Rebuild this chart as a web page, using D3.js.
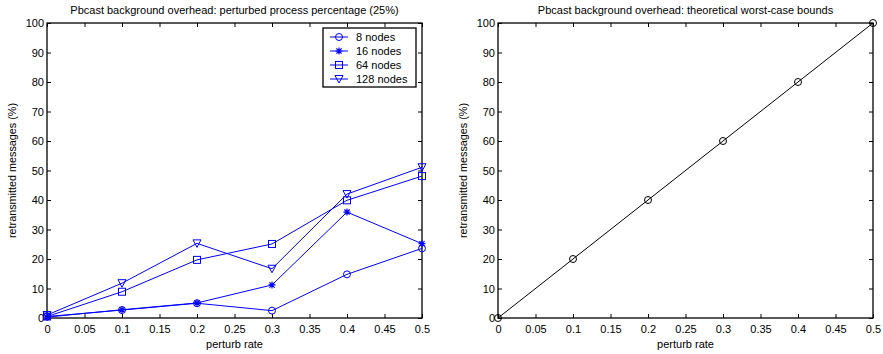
<!DOCTYPE html>
<html>
<head>
<meta charset="utf-8">
<script src="https://cdn.jsdelivr.net/npm/d3@7"></script>
<style>
  body { margin: 0; background: #fff; }
  text { font-family: "Liberation Sans", Arial, sans-serif; }
</style>
</head>
<body>
<svg id="chart" width="883" height="354"></svg>
<script>
// data
const rates = [0, 0.1, 0.2, 0.3, 0.4, 0.5];
const nodes8 = [0.5, 2.7, 5.0, 2.5, 14.8, 23.6];
const nodes16 = [0.3, 2.8, 5.1, 11.2, 35.9, 25.2];
const nodes64 = [0.5, 8.9, 19.7, 25.1, 39.9, 48.1];
const nodes128 = [1.0, 11.8, 25.3, 16.7, 42.0, 51.1];
const bounds = [0, 20, 40, 60, 80, 100];
const xTicks = [0, 0.05, 0.1, 0.15, 0.2, 0.25, 0.3, 0.35, 0.4, 0.45, 0.5];
const yTicks = [0, 10, 20, 30, 40, 50, 60, 70, 80, 90, 100];

const blue = "#0000ff";
const leftSeries = [
  { name: "8 nodes", values: nodes8, marker: "circle" },
  { name: "16 nodes", values: nodes16, marker: "star" },
  { name: "64 nodes", values: nodes64, marker: "square" },
  { name: "128 nodes", values: nodes128, marker: "triangle" }
];

const svg = d3.select("#chart");

// draw one marker at (0,0) inside group g
function drawMarker(g, type, color) {
  if (type === "circle") {
    g.append("circle").attr("r", 3.5).attr("fill", "none").attr("stroke", color);
  } else if (type === "square") {
    g.append("rect").attr("x", -3.5).attr("y", -3.5).attr("width", 7).attr("height", 7)
      .attr("fill", "none").attr("stroke", color);
  } else if (type === "triangle") {
    g.append("path").attr("d", "M-4,-3.5L4,-3.5L0,4Z").attr("fill", "none").attr("stroke", color);
  } else if (type === "star") {
    g.append("path").attr("d", "M-3.5,0L3.5,0M0,-3.5L0,3.5M-2.6,-2.6L2.6,2.6M-2.6,2.6L2.6,-2.6")
      .attr("stroke", color).attr("stroke-width", 1.2);
  }
}

function panel(left, title, seriesList, legend) {
  const x = d3.scaleLinear().domain([0, 0.5]).range([left, left + 375]);
  const y = d3.scaleLinear().domain([0, 100]).range([318, 23]);
  const g = svg.append("g");

  // box
  g.append("rect").attr("x", x(0)).attr("y", y(100))
    .attr("width", x(0.5) - x(0)).attr("height", y(0) - y(100))
    .attr("fill", "none").attr("stroke", "#000").attr("stroke-width", 1.3);

  // axes with inward ticks
  const ax = (axis) => axis.tickSizeInner(-4).tickSizeOuter(0).tickPadding(7);
  g.append("g").attr("transform", `translate(0,${y(0)})`)
    .call(ax(d3.axisBottom(x).tickValues(xTicks).tickFormat(d3.format("~g"))));
  g.append("g").attr("transform", `translate(0,${y(100)})`)
    .call(ax(d3.axisTop(x).tickValues(xTicks).tickFormat("")));
  g.append("g").attr("transform", `translate(${x(0)},0)`)
    .call(ax(d3.axisLeft(y).tickValues(yTicks)).tickPadding(3));
  g.append("g").attr("transform", `translate(${x(0.5)},0)`)
    .call(ax(d3.axisRight(y).tickValues(yTicks).tickFormat("")));
  g.selectAll(".domain").remove();
  g.selectAll(".tick text").attr("font-size", 11).attr("fill", "#000")
    .attr("font-family", "Liberation Sans, Arial, sans-serif");
  g.selectAll(".tick line").attr("stroke", "#000");

  // titles
  g.append("text").attr("x", (x(0) + x(0.5)) / 2).attr("y", 14)
    .attr("text-anchor", "middle").attr("font-size", 11).text(title);
  g.append("text").attr("x", (x(0) + x(0.5)) / 2).attr("y", 348)
    .attr("text-anchor", "middle").attr("font-size", 11).text("perturb rate");
  g.append("text").attr("transform", `translate(${x(0) - 31},${(y(0) + y(100)) / 2}) rotate(-90)`)
    .attr("text-anchor", "middle").attr("font-size", 10.8).text("retransmitted messages (%)");

  const line = d3.line().x((d, i) => x(rates[i])).y(d => y(d));
  seriesList.forEach(s => {
    g.append("path").datum(s.values).attr("d", line)
      .attr("fill", "none").attr("stroke", s.color).attr("stroke-width", 1);
    s.values.forEach((v, i) => {
      const m = g.append("g").attr("transform", `translate(${x(rates[i])},${y(v)})`);
      drawMarker(m, s.marker, s.color);
    });
  });

  if (legend) {
    const lx = 323, ly = 28;
    g.append("rect").attr("x", lx).attr("y", ly).attr("width", 93).attr("height", 59)
      .attr("fill", "#fff").attr("stroke", "#000").attr("stroke-width", 1.3);
    seriesList.forEach((s, i) => {
      const cy = ly + 9 + i * 14;
      g.append("line").attr("x1", lx + 7).attr("x2", lx + 25).attr("y1", cy).attr("y2", cy)
        .attr("stroke", s.color);
      drawMarker(g.append("g").attr("transform", `translate(${lx + 16},${cy})`), s.marker, s.color);
      g.append("text").attr("x", lx + 33).attr("y", cy + 4).attr("font-size", 11).text(s.name);
    });
  }
}

panel(47, "Pbcast background overhead: perturbed process percentage (25%)",
  leftSeries.map(s => Object.assign({ color: blue }, s)), true);
panel(498, "Pbcast background overhead: theoretical worst-case bounds",
  [{ name: "bounds", values: bounds, marker: "circle", color: "#000" }], false);
</script>
</body>
</html>
